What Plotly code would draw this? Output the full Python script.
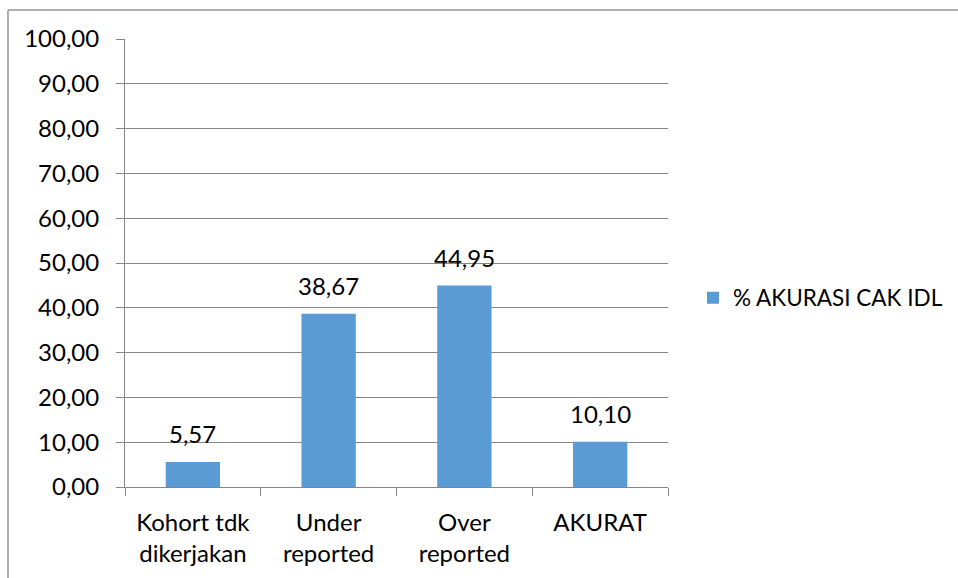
import plotly.graph_objects as go

categories = ["Kohort tdk<br>dikerjakan", "Under<br>reported", "Over<br>reported", "AKURAT"]
values = [5.57, 38.67, 44.95, 10.10]
series_name = "% AKURASI CAK IDL"
y_ticks = [0, 10, 20, 30, 40, 50, 60, 70, 80, 90, 100]

W, H = 958, 578
L, R, T, B = 125, 290, 39, 91
pw, ph = W - L - R, H - T - B

def px(x):
    return (x - L) / pw

def py(y):
    return (H - B - y) / ph

FONT = "Lato, 'Open Sans', sans-serif"
GRAY = "#868686"

fig = go.Figure()
fig.add_trace(go.Bar(
    x=categories, y=values, name=series_name,
    marker=dict(color="#5B9BD5", line=dict(width=0)),
    showlegend=True,
))

for c, v in zip(categories, values):
    fig.add_annotation(x=c, y=v, text=f"{v:.2f}".replace(".", ","),
                       showarrow=False, yanchor="bottom", yshift=12,
                       font=dict(family=FONT, size=24, color="black"))

fig.update_layout(
    width=W, height=H,
    margin=dict(l=L, r=R, t=T, b=B, autoexpand=False),
    paper_bgcolor="white", plot_bgcolor="white",
    separators=",.",
    bargap=0.6,
    font=dict(family=FONT, size=24, color="black"),
    showlegend=True,
    legend=dict(x=px(693), y=py(298), xanchor="left", yanchor="middle",
                font=dict(family=FONT, size=22.5, color="black"),
                itemwidth=30, bgcolor="rgba(0,0,0,0)"),
    xaxis=dict(showline=True, linecolor=GRAY, linewidth=1,
               ticks="outside", tickson="boundaries", ticklen=8, tickcolor=GRAY,
               ticklabelstandoff=14,
               showgrid=False, tickfont=dict(family=FONT, size=24, color="black")),
    yaxis=dict(range=[0, 100], tickvals=y_ticks, tickformat=".2f",
               showline=True, linecolor=GRAY, linewidth=1,
               ticks="outside", ticklen=8, tickcolor=GRAY,
               ticklabelstandoff=12,
               showgrid=True, gridcolor=GRAY, gridwidth=1, zeroline=False,
               tickfont=dict(family=FONT, size=24, color="black")),
    shapes=[
        dict(type="line", xref="paper", yref="paper", x0=px(8), x1=px(958), y0=py(10), y1=py(10),
             line=dict(color="#969696", width=1.5)),
        dict(type="line", xref="paper", yref="paper", x0=px(8), x1=px(8), y0=py(10), y1=py(578),
             line=dict(color="#969696", width=1.5)),
    ],
)

fig.write_html("out.html")
